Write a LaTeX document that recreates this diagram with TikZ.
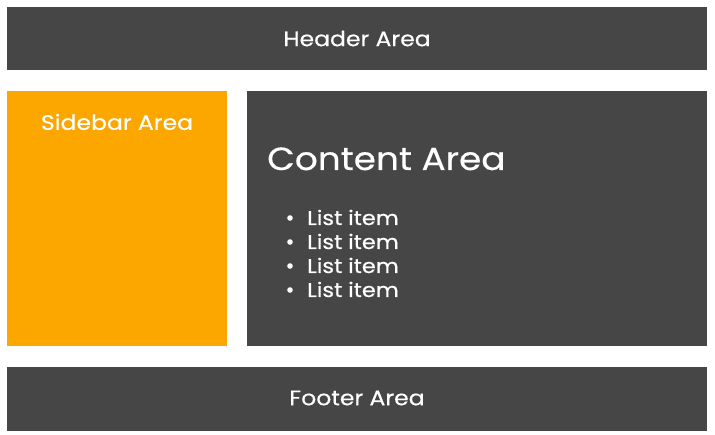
\documentclass[tikz,border=0pt]{standalone}
\usepackage{fontspec}
\setmainfont[FakeStretch=1.12,FakeBold=0.4]{Poppins}
\definecolor{darkbox}{HTML}{464646}
\definecolor{orangebox}{HTML}{FCA600}
\begin{document}
\begin{tikzpicture}[x=1pt,y=-1pt,
  area/.style={fill=darkbox,draw=none},
  label/.style={text=white,inner sep=0pt,font=\fontsize{21}{24}\selectfont},
  itemtext/.style={text=white,inner sep=0pt,anchor=base west,font=\fontsize{20}{24}\selectfont}]
\useasboundingbox[fill=white] (0,0) rectangle (715,435);
\fill[area] (7,7) rectangle (707,70.5);
\fill[orangebox] (7,91) rectangle (227,346);
\fill[area] (247,91) rectangle (707,346.5);
\fill[area] (7,367) rectangle (707,431);
\node[label] (header) at (357,38.5) {Header Area};
\node[label] (sidebar) at (117,122) {Sidebar Area};
\node[label] (footer) at (357,398) {Footer Area};
\node[text=white,inner sep=0pt,anchor=base west,font=\fontsize{32}{36}\selectfont] (content) at (267,170) {Content Area};
\foreach \i/\y in {1/225,2/249,3/273,4/297}{
  \fill[white] (290,\y-7) circle (2.8);
  \node[itemtext] (item\i) at (307,\y) {List item};
}
\end{tikzpicture}
\end{document}
